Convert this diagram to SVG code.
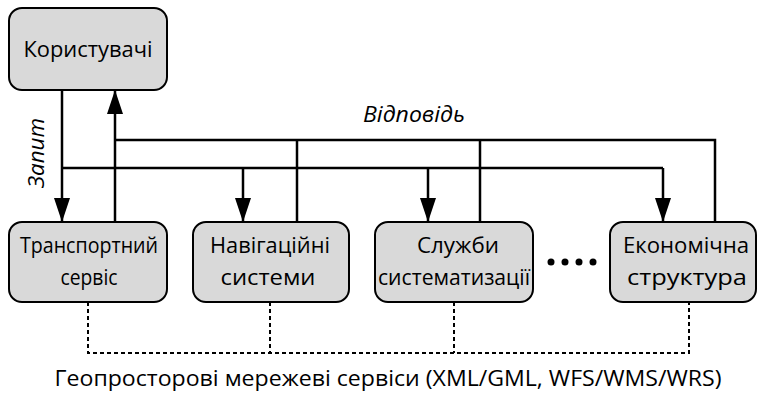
<svg xmlns="http://www.w3.org/2000/svg" width="763" height="398" viewBox="0 0 763 398">
<style>
.box{fill:#d9d9d9;stroke:#000;stroke-width:2}
.t{font-family:"Open Sans","Noto Sans",sans-serif;font-size:22px;fill:#000;text-anchor:middle}
.it{font-style:italic}
.ln{fill:none;stroke:#000;stroke-width:2.5}
.dash{fill:none;stroke:#000;stroke-width:2;stroke-dasharray:4 3}
</style>
<defs>
<marker id="ar" markerUnits="userSpaceOnUse" markerWidth="24" markerHeight="16" viewBox="0 0 24 16" refX="24" refY="8" orient="auto">
<path d="M0,0 L24,8 L0,16 Z" fill="#000"/>
</marker>
</defs>
<g id="connectors">
<path class="ln" d="M62,90 V222" marker-end="url(#ar)"/>
<path class="ln" d="M62,168 H663"/>
<path class="ln" d="M243,168 V222" marker-end="url(#ar)"/>
<path class="ln" d="M428,168 V222" marker-end="url(#ar)"/>
<path class="ln" d="M663,168 V222" marker-end="url(#ar)"/>
<path class="ln" d="M115,222 V90" marker-end="url(#ar)"/>
<path class="ln" d="M115,140 H715 V222"/>
<path class="ln" d="M297,140 V222"/>
<path class="ln" d="M480,140 V222"/>
<path class="dash" d="M88,302 V353 H689 V302"/>
<path class="dash" d="M270,302 V353"/>
<path class="dash" d="M454,302 V353"/>
</g>
<g id="users">
<rect class="box" x="9" y="8" width="158" height="82" rx="13"/>
<text class="t" x="88" y="57" textLength="129" lengthAdjust="spacingAndGlyphs">Користувачі</text>
</g>
<g id="transport">
<rect class="box" x="9" y="222" width="158" height="80" rx="13"/>
<text class="t" x="89" y="253" textLength="138" lengthAdjust="spacingAndGlyphs">Транспортний</text>
<text class="t" x="89" y="285" textLength="57" lengthAdjust="spacingAndGlyphs">сервіс</text>
</g>
<g id="navigation">
<rect class="box" x="193" y="222" width="156" height="80" rx="13"/>
<text class="t" x="270" y="253" textLength="120" lengthAdjust="spacingAndGlyphs">Навігаційні</text>
<text class="t" x="268" y="285" textLength="95" lengthAdjust="spacingAndGlyphs">системи</text>
</g>
<g id="services">
<rect class="box" x="375" y="222" width="158" height="80" rx="13"/>
<text class="t" x="458" y="253" textLength="82" lengthAdjust="spacingAndGlyphs">Служби</text>
<text class="t" x="454" y="285" textLength="152" lengthAdjust="spacingAndGlyphs">систематизації</text>
</g>
<g id="economic">
<rect class="box" x="610" y="222" width="146" height="80" rx="13"/>
<text class="t" x="686" y="253" textLength="126" lengthAdjust="spacingAndGlyphs">Економічна</text>
<text class="t" x="687" y="285" textLength="120" lengthAdjust="spacingAndGlyphs">структура</text>
</g>
<g id="ellipsis">
<circle cx="551" cy="262" r="3.5"/>
<circle cx="565" cy="262" r="3.5"/>
<circle cx="579" cy="262" r="3.5"/>
<circle cx="593" cy="262" r="3.5"/>
</g>
<g id="labels">
<text class="t it" x="414" y="122" textLength="102" lengthAdjust="spacingAndGlyphs">Відповідь</text>
<text class="t it" x="0" y="0" transform="translate(44,153) rotate(-90)" textLength="70" lengthAdjust="spacingAndGlyphs">Запит</text>
<text class="t" x="388" y="386" textLength="667" lengthAdjust="spacingAndGlyphs">Геопросторові мережеві сервіси (XML/GML, WFS/WMS/WRS)</text>
</g>
</svg>
